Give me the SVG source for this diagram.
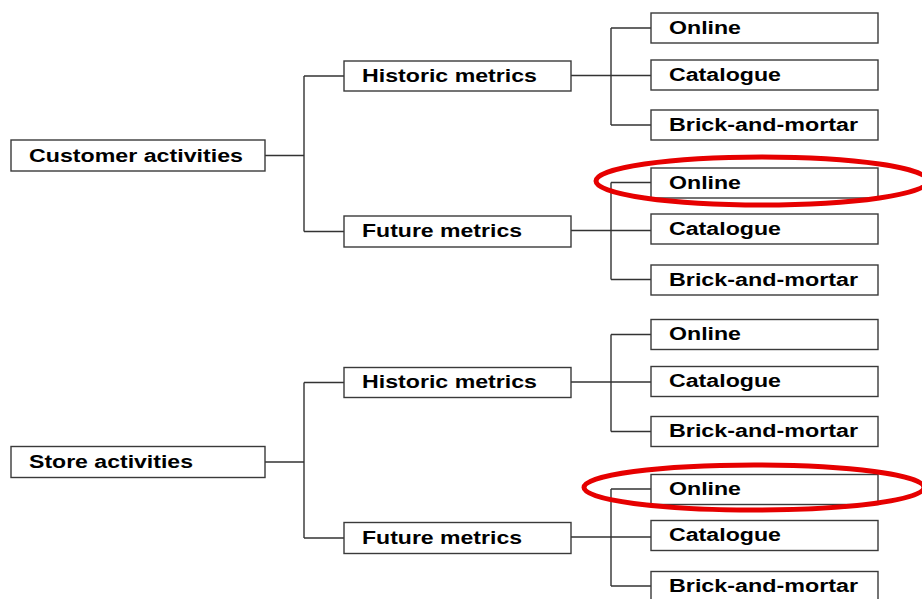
<svg xmlns="http://www.w3.org/2000/svg" width="922" height="599" viewBox="0 0 922 599">
<style>
.box{fill:#fff;stroke:#3a3a3a;stroke-width:1.4}
.lbl{font-family:"Liberation Sans",Arial,sans-serif;font-weight:bold;font-size:17.5px;fill:#000}
.conn{fill:none;stroke:#333;stroke-width:1.4}
.hl{fill:none;stroke:#e60000;stroke-width:5}
</style>
<rect width="922" height="599" fill="#fff"/>
<g id="connectors" class="conn">
<path d="M265,155.5H304M304,76V231.5M304,76H344M304,231.5H344"/>
<path d="M571,75.5H651M611,28V125M611,28H651M611,125H651"/>
<path d="M571,230.5H651M611,182.5V279.5M611,182.5H651M611,279.5H651"/>
<path d="M265,462H304M304,382.5V538M304,382.5H344M304,538H344"/>
<path d="M571,382H651M611,334.5V431.5M611,334.5H651M611,431.5H651"/>
<path d="M571,537H651M611,489V586M611,489H651M611,586H651"/>
</g>
<g id="customer"><rect class="box" x="11" y="140" width="254" height="31"/><text class="lbl" x="29" y="161.5" textLength="214" lengthAdjust="spacingAndGlyphs">Customer activities</text></g>
<g id="c_hist"><rect class="box" x="344" y="61" width="227" height="30"/><text class="lbl" x="362" y="81.5" textLength="175" lengthAdjust="spacingAndGlyphs">Historic metrics</text></g>
<g id="c_fut"><rect class="box" x="344" y="216" width="227" height="31"/><text class="lbl" x="362" y="237" textLength="160" lengthAdjust="spacingAndGlyphs">Future metrics</text></g>
<g id="c_h_online"><rect class="box" x="651" y="13" width="227" height="30"/><text class="lbl" x="669" y="33.5" textLength="72" lengthAdjust="spacingAndGlyphs">Online</text></g>
<g id="c_h_cat"><rect class="box" x="651" y="60" width="227" height="30"/><text class="lbl" x="669" y="80.5" textLength="112" lengthAdjust="spacingAndGlyphs">Catalogue</text></g>
<g id="c_h_brick"><rect class="box" x="651" y="110" width="227" height="30"/><text class="lbl" x="669" y="130.5" textLength="189" lengthAdjust="spacingAndGlyphs">Brick-and-mortar</text></g>
<g id="c_f_online"><rect class="box" x="651" y="168" width="227" height="30"/><text class="lbl" x="669" y="188.5" textLength="72" lengthAdjust="spacingAndGlyphs">Online</text></g>
<g id="c_f_cat"><rect class="box" x="651" y="214" width="227" height="30"/><text class="lbl" x="669" y="234.5" textLength="112" lengthAdjust="spacingAndGlyphs">Catalogue</text></g>
<g id="c_f_brick"><rect class="box" x="651" y="265" width="227" height="30"/><text class="lbl" x="669" y="285.5" textLength="189" lengthAdjust="spacingAndGlyphs">Brick-and-mortar</text></g>
<g id="store"><rect class="box" x="11" y="446.5" width="254" height="31"/><text class="lbl" x="29" y="468" textLength="164" lengthAdjust="spacingAndGlyphs">Store activities</text></g>
<g id="s_hist"><rect class="box" x="344" y="367.5" width="227" height="30"/><text class="lbl" x="362" y="388" textLength="175" lengthAdjust="spacingAndGlyphs">Historic metrics</text></g>
<g id="s_fut"><rect class="box" x="344" y="522.5" width="227" height="31"/><text class="lbl" x="362" y="543.5" textLength="160" lengthAdjust="spacingAndGlyphs">Future metrics</text></g>
<g id="s_h_online"><rect class="box" x="651" y="319.5" width="227" height="30"/><text class="lbl" x="669" y="340" textLength="72" lengthAdjust="spacingAndGlyphs">Online</text></g>
<g id="s_h_cat"><rect class="box" x="651" y="366.5" width="227" height="30"/><text class="lbl" x="669" y="387" textLength="112" lengthAdjust="spacingAndGlyphs">Catalogue</text></g>
<g id="s_h_brick"><rect class="box" x="651" y="416.5" width="227" height="30"/><text class="lbl" x="669" y="437" textLength="189" lengthAdjust="spacingAndGlyphs">Brick-and-mortar</text></g>
<g id="s_f_online"><rect class="box" x="651" y="474.5" width="227" height="30"/><text class="lbl" x="669" y="495" textLength="72" lengthAdjust="spacingAndGlyphs">Online</text></g>
<g id="s_f_cat"><rect class="box" x="651" y="520.5" width="227" height="30"/><text class="lbl" x="669" y="541" textLength="112" lengthAdjust="spacingAndGlyphs">Catalogue</text></g>
<g id="s_f_brick"><rect class="box" x="651" y="571.5" width="227" height="30"/><text class="lbl" x="669" y="592" textLength="189" lengthAdjust="spacingAndGlyphs">Brick-and-mortar</text></g>
<g id="highlights">
<ellipse class="hl" cx="762" cy="181" rx="166" ry="24"/>
<ellipse class="hl" cx="754" cy="487.5" rx="170" ry="22.5"/>
</g>
</svg>
